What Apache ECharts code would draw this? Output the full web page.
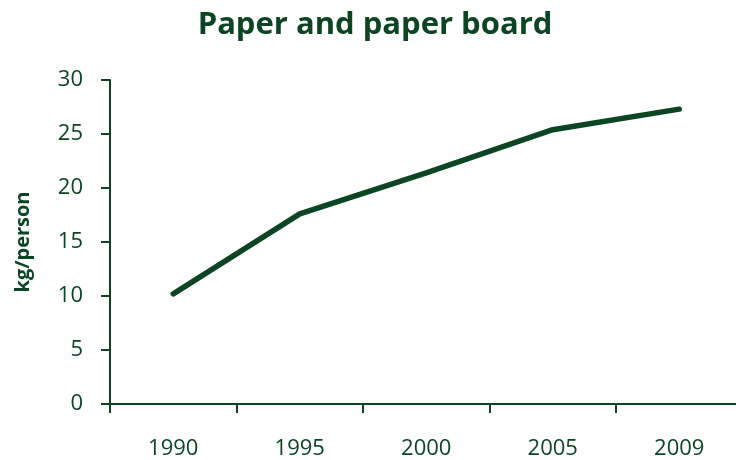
<!DOCTYPE html>
<html>
<head>
<meta charset="utf-8">
<script src="https://cdn.jsdelivr.net/npm/echarts@6/dist/echarts.min.js"></script>
<style>
html,body{margin:0;padding:0;background:#fff;overflow:hidden;}
#chart{width:746px;height:460px;}
</style>
</head>
<body>
<div id="chart"></div>
<script>
const titleText = 'Paper and paper board';
const yAxisName = 'kg/person';
const years = ['1990', '1995', '2000', '2005', '2009'];
const kgPerPerson = [10.2, 17.6, 21.4, 25.4, 27.3];
const yMin = 0, yMax = 30, yStep = 5;

const green = '#0b4523';
const font = 'Open Sans';

const chart = echarts.init(document.getElementById('chart'), null, {renderer: 'canvas'});
chart.setOption({
  animation: false,
  backgroundColor: '#ffffff',
  title: {
    text: titleText,
    left: 370, textAlign: 'center',
    top: 5,
    textStyle: {fontFamily: font, fontSize: 31, fontWeight: 'bold', color: green}
  },
  grid: {left: 110, top: 80, right: 3.5, bottom: 55, containLabel: false},
  xAxis: {
    type: 'category',
    data: years,
    boundaryGap: true,
    axisLine: {show: true, lineStyle: {color: green, width: 2}},
    axisTick: {show: true, length: 9, lineStyle: {color: green, width: 2}},
    axisLabel: {fontFamily: font, fontSize: 22, color: green, margin: 34},
    splitLine: {show: false}
  },
  yAxis: {
    type: 'value',
    min: yMin, max: yMax, interval: yStep,
    name: yAxisName,
    nameLocation: 'middle',
    nameGap: 77,
    nameRotate: 90,
    nameTextStyle: {fontFamily: font, fontSize: 20, fontWeight: 'bold', color: green},
    axisLine: {show: true, lineStyle: {color: green, width: 2}},
    axisTick: {show: true, length: 9, lineStyle: {color: green, width: 2}},
    axisLabel: {fontFamily: font, fontSize: 22, color: green, margin: 27},
    splitLine: {show: false}
  },
  series: [{
    type: 'line',
    data: kgPerPerson,
    symbol: 'none',
    lineStyle: {color: green, width: 5.5, cap: 'round', join: 'round'}
  }]
});
</script>
</body>
</html>
